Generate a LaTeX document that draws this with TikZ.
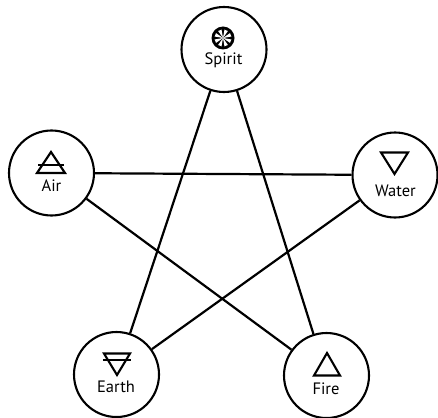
\documentclass[tikz,border=0pt]{standalone}
\usepackage{fontspec}
\setmainfont{PT Sans}
\tikzset{
  elem/.style={circle,draw=black,line width=2.1pt,minimum size=85pt,inner sep=0pt,fill=white},
  link/.style={draw=black,line width=2.2pt},
  sym/.style={draw=black,line width=2.1pt,line join=miter},
  lab/.style={anchor=base,inner sep=0pt,font=\fontsize{16.5}{19}\selectfont,text=black}
}
\begin{document}
\begin{tikzpicture}[x=1pt,y=-1pt]
\useasboundingbox (0,0) rectangle (438,417);
\node[elem] (spirit) at (224,49.5) {};
\node[elem] (air) at (51.5,173) {};
\node[elem] (water) at (395,175) {};
\node[elem] (earth) at (116.5,374.5) {};
\node[elem] (fire) at (326.5,375.5) {};
\draw[link] (spirit) -- (earth);
\draw[link] (spirit) -- (fire);
\draw[link] (air) -- (water);
\draw[link] (air) -- (fire);
\draw[link] (water) -- (earth);
% Spirit symbol
\fill[black] (223,38) circle (11.5);
\foreach \a in {0,45,...,315}
  \fill[white] (223,38) -- ++(\a+10:8.5) arc[start angle=\a+10,end angle=\a+35,radius=8.5] -- cycle;
% Air
\draw[sym] (51,152) -- (65,173) -- (37,173) -- cycle;
\draw[sym] (38,165) -- (64,165);
% Water
\draw[sym] (381,152.5) -- (408,152.5) -- (394.5,174) -- cycle;
% Earth
\draw[sym] (104,353.5) -- (130,353.5) -- (117,375) -- cycle;
\draw[sym] (103,360) -- (131,360);
% Fire
\draw[sym] (327,353) -- (340,375.5) -- (314,375.5) -- cycle;
% Labels
\node[lab] (tspirit) at (223.5,65) {Spirit};
\node[lab] (tair) at (51.5,191) {Air};
\node[lab] (twater) at (395.5,196) {Water};
\node[lab] (tearth) at (116,392) {Earth};
\node[lab] (tfire) at (326,394) {Fire};
\end{tikzpicture}
\end{document}
